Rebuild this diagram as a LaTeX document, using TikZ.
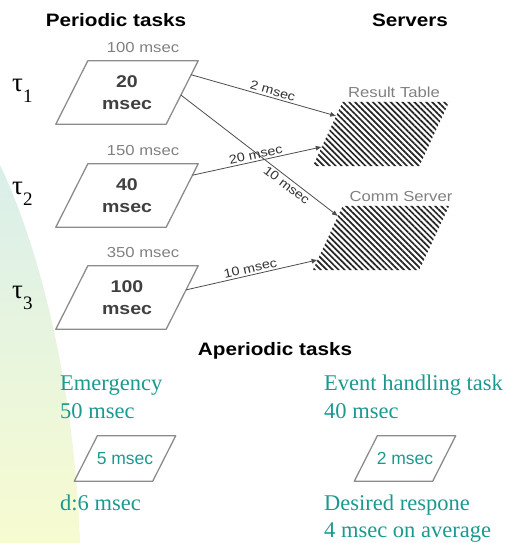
\documentclass[tikz,border=0pt]{standalone}
\usepackage{fontspec}
\setmainfont{Liberation Serif}
\setsansfont{Liberation Sans}
\usepackage{graphicx}
\usetikzlibrary{arrows.meta,calc,positioning,patterns.meta}
\definecolor{slideteal}{HTML}{1A9A8F}
\definecolor{edgegray}{HTML}{8C8C8C}
\definecolor{labelgray}{HTML}{808080}
\definecolor{bgtop}{HTML}{DAEFEB}
\definecolor{bgbottom}{HTML}{F7FBD0}
\newcommand{\wide}[1]{\scalebox{1.15}[1]{#1}}
\newcommand{\tauname}[1]{τ\raisebox{-11pt}{\fontsize{19}{19}\selectfont #1}}
% slanted frame round a box node: corners (name-tl), (name-tr), (name-br), (name-bl)
\newcommand{\slantframe}[3][]{%
  \coordinate (#2-tl) at ([xshift=#3]#2.north west);
  \coordinate (#2-tr) at ([xshift=#3]#2.north east);
  \coordinate (#2-br) at ([xshift=-#3]#2.south east);
  \coordinate (#2-bl) at ([xshift=-#3]#2.south west);
  \path[#1] (#2-tl) -- (#2-tr) -- (#2-br) -- (#2-bl) -- cycle;}

\begin{document}
\begin{tikzpicture}[
  x=1pt, y=-1pt,
  headstyle/.style={anchor=base, inner sep=0, font=\sffamily\bfseries\fontsize{18}{18}\selectfont},
  taustyle/.style={anchor=base west, inner sep=0, font=\fontsize{27}{27}\selectfont},
  taskstyle/.style={minimum width=110pt, minimum height=63pt, inner sep=0, align=center,
    text=black!75, font=\sffamily\bfseries\fontsize{17}{22}\selectfont},
  serverstyle/.style={minimum width=106pt, minimum height=64pt, inner sep=0},
  smallstyle/.style={minimum width=78pt, minimum height=45pt, inner sep=0,
    text=slideteal, font=\sffamily\fontsize{17.5}{17.5}\selectfont},
  framestyle/.style={draw=edgegray, line width=1.3pt, line join=round},
  hatchstyle/.style={pattern={Lines[angle=-45, distance=4.2pt, line width=1.7pt]}, pattern color=black!85},
  periodstyle/.style={anchor=base, inner sep=0, text=labelgray, font=\sffamily\fontsize{14.5}{14.5}\selectfont},
  tealstyle/.style={anchor=base west, inner sep=0, text=slideteal, font=\fontsize{22.5}{28}\selectfont},
  pathstyle/.style={-{Latex[length=6pt, width=5pt]}, draw=black!70, line width=0.8pt},
  costnode/.style={sloped, inner sep=2pt, text=black!80, font=\sffamily\fontsize{12.5}{12.5}\selectfont}
]
  \useasboundingbox (0,0) rectangle (517,543);

  % slide background
  \shade[top color=bgtop, bottom color=bgbottom]
    (0,165) .. controls (45,260) and (75,400) .. (80,543) -- (0,543) -- cycle;

  \node[headstyle] (PERIODIC) at (116,27)
    {\wide{Periodic tasks}};
  \node[headstyle] (SERVERS) at (410,27)
    {\wide{Servers}};

  % periodic tasks
  \node[taskstyle] (P1) at (127,92.5)
    {\wide{20}\\\wide{msec}};
  \node[taskstyle] (P2) at (127,195.5)
    {\wide{40}\\\wide{msec}};
  \node[taskstyle] (P3) at (127,297.5)
    {\wide{100}\\\wide{msec}};
  \slantframe[framestyle]{P1}{16pt}
  \slantframe[framestyle]{P2}{16pt}
  \slantframe[framestyle]{P3}{16pt}

  \node[periodstyle] (T1) at ($(P1-tl)!0.5!(P1-tr)+(0,-8)$)
    {\wide{100 msec}};
  \node[periodstyle] (T2) at ($(P2-tl)!0.5!(P2-tr)+(0,-8)$)
    {\wide{150 msec}};
  \node[periodstyle] (T3) at ($(P3-tl)!0.5!(P3-tr)+(0,-8)$)
    {\wide{350 msec}};

  \node[taustyle] (TAU1) at (12,91)
    {\tauname{1}};
  \node[taustyle] (TAU2) at (12,194.5)
    {\tauname{2}};
  \node[taustyle] (TAU3) at (12,298)
    {\tauname{3}};

  % servers
  \node[serverstyle] (RT) at (381,134)
    {};
  \node[serverstyle] (CS) at (381,238)
    {};
  \slantframe[hatchstyle]{RT}{15pt}
  \slantframe[hatchstyle]{CS}{15pt}
  \node[periodstyle] (RTNAME) at ($(RT-tl)!0.5!(RT-tr)+(-2,-4)$)
    {\wide{Result Table}};
  \node[periodstyle] (CSNAME) at ($(CS-tl)!0.5!(CS-tr)+(5,-4)$)
    {\wide{Comm Server}};

  \draw[pathstyle] ($(P1-tr)!0.22!(P1-br)$)
    -- node[costnode, above, pos=0.55] {\wide{2 msec}}
    ($(RT-tl)!0.22!(RT-bl)$);
  \draw[pathstyle] ($(P1-tr)!0.54!(P1-br)$)
    -- node[costnode, below, pos=0.7] {\wide{10 msec}}
    ($(CS-tl)!0.16!(CS-bl)$);
  \draw[pathstyle] ($(P2-tr)!0.18!(P2-br)$)
    -- node[costnode, above, pos=0.5] {\wide{20 msec}}
    ($(RT-tl)!0.70!(RT-bl)$);
  \draw[pathstyle] ($(P3-tr)!0.38!(P3-br)$)
    -- node[costnode, above, pos=0.5] {\wide{10 msec}}
    ($(CS-tl)!0.84!(CS-bl)$);

  % aperiodic tasks
  \node[headstyle] (APERIODIC) at (275,355)
    {\wide{Aperiodic tasks}};

  \node[tealstyle] (EMNAME) at (60,390)
    {Emergency};
  \node[tealstyle] (EMTIME) at (60,418)
    {50 msec};
  \node[smallstyle] (EM) at (125,458.5)
    {5 msec};
  \slantframe[framestyle]{EM}{11.5pt}
  \node[tealstyle] (EMDEAD) at (60,510)
    {d:6 msec};

  \node[tealstyle] (EVNAME) at (324,390)
    {Event handling task};
  \node[tealstyle] (EVTIME) at (324,418)
    {40 msec};
  \node[smallstyle] (EV) at (405,458.5)
    {2 msec};
  \slantframe[framestyle]{EV}{11.5pt}
  \node[tealstyle] (EVRESP) at (324,510)
    {Desired respone};
  \node[tealstyle] (EVAVG) at (324,537)
    {4 msec on average};
\end{tikzpicture}
\end{document}
